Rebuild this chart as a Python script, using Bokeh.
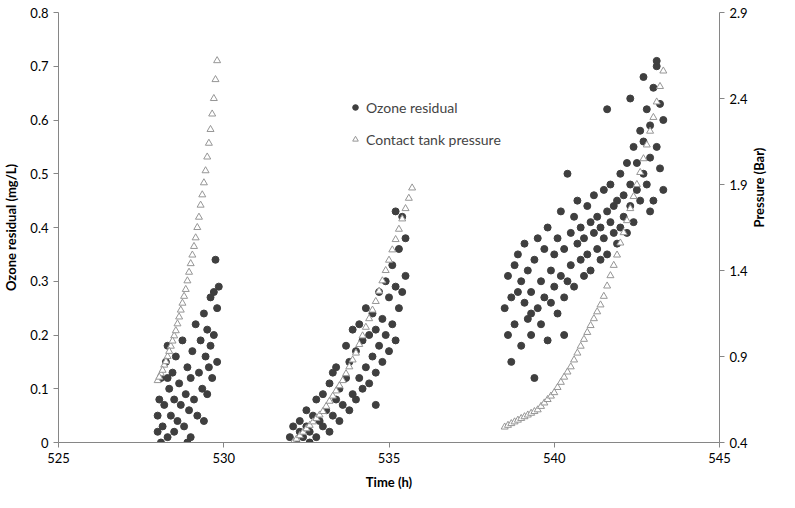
import math
from bokeh.plotting import figure
from bokeh.models import Range1d, LinearAxis, Legend, LegendItem, FixedTicker
from bokeh.embed import file_html
from bokeh.resources import INLINE

# Contact tank pressure (Bar)
p_time = [528.0,528.1,528.2,528.3,528.4,528.5,528.6,528.7,528.8,528.9,529.0,529.1,529.2,529.3,529.4,529.5,529.6,529.7,529.8,
          532.1,532.2,532.3,532.4,532.5,532.6,532.7,532.8,532.9,533.0,533.1,533.2,533.3,533.4,533.5,533.6,533.7,533.8,533.9,
          534.0,534.1,534.2,534.3,534.4,534.5,534.6,534.7,534.8,534.9,535.0,535.1,535.2,535.3,535.4,535.5,535.6,535.7,
          538.5,538.6,538.7,538.8,538.9,539.0,539.1,539.2,539.3,539.4,539.5,539.6,539.7,539.8,539.9,540.0,540.1,540.2,540.3,
          540.4,540.5,540.6,540.7,540.8,540.9,541.0,541.1,541.2,541.3,541.4,541.5,541.6,541.7,541.8,541.9,542.0,542.1,542.2,
          542.3,542.4,542.5,542.6,542.7,542.8,542.9,543.0,543.1,543.2,543.3,
          528.05,528.15,528.25,528.35,528.45,528.55,528.65,528.75,528.85,528.95,529.05,529.15,529.25,529.35,529.45,529.55,529.65,529.75]
pressure = [0.76,0.80,0.85,0.90,0.96,1.02,1.09,1.17,1.25,1.34,1.44,1.54,1.65,1.78,1.91,2.06,2.22,2.40,2.62,
            0.40,0.42,0.44,0.46,0.48,0.50,0.52,0.54,0.56,0.58,0.61,0.64,0.67,0.70,0.73,0.76,0.80,0.84,0.88,
            0.92,0.97,1.02,1.07,1.12,1.17,1.22,1.28,1.34,1.40,1.46,1.52,1.58,1.64,1.70,1.76,1.82,1.88,
            0.49,0.50,0.51,0.52,0.53,0.54,0.55,0.56,0.57,0.58,0.59,0.61,0.63,0.65,0.67,0.69,0.72,0.75,0.78,
            0.81,0.84,0.88,0.92,0.96,1.00,1.04,1.08,1.12,1.16,1.20,1.25,1.31,1.37,1.43,1.49,1.56,1.62,1.69,
            1.76,1.83,1.90,1.97,2.05,2.13,2.21,2.29,2.38,2.47,2.56,
            0.78,0.82,0.87,0.93,0.99,1.05,1.13,1.21,1.29,1.39,1.49,1.59,1.71,1.84,1.98,2.14,2.31,2.51]

# Ozone residual (mg/L)
o_time = [528.0,528.0,528.05,528.1,528.1,528.15,528.2,528.25,528.3,528.3,528.35,528.4,528.45,528.5,528.5,528.55,528.6,
          528.65,528.7,528.75,528.8,528.85,528.9,528.95,529.0,529.0,529.05,529.1,529.15,529.2,529.25,529.3,529.35,529.4,
          529.4,529.45,529.5,529.5,529.55,529.6,529.6,529.65,529.7,529.7,529.75,529.8,529.8,529.85,528.3,528.9,
          532.0,532.1,532.2,532.3,532.3,532.4,532.5,532.5,532.6,532.7,532.8,532.8,532.9,533.0,533.0,533.1,533.2,533.2,
          533.3,533.4,533.4,533.5,533.5,533.6,533.7,533.7,533.8,533.8,533.9,534.0,534.0,534.1,534.1,534.2,534.2,534.3,
          534.3,534.4,534.4,534.5,534.5,534.6,534.6,534.7,534.7,534.8,534.8,534.9,534.9,535.0,535.0,535.1,535.1,535.2,
          535.2,535.3,535.3,535.4,535.4,535.5,535.5,532.6,533.3,533.9,534.6,535.2,
          538.5,538.6,538.6,538.7,538.7,538.8,538.8,538.9,538.9,539.0,539.0,539.1,539.1,539.2,539.2,539.3,539.3,539.4,
          539.4,539.5,539.5,539.6,539.6,539.7,539.7,539.8,539.8,539.9,539.9,540.0,540.0,540.1,540.1,540.2,540.2,540.3,
          540.3,540.4,540.4,540.5,540.5,540.6,540.6,540.7,540.7,540.8,540.8,540.9,540.9,541.0,541.0,541.1,541.1,541.2,
          541.2,541.3,541.3,541.4,541.4,541.5,541.5,541.6,541.6,541.7,541.7,541.8,541.8,541.9,541.9,542.0,542.0,542.1,
          542.1,542.2,542.2,542.3,542.3,542.4,542.4,542.5,542.5,542.6,542.6,542.7,542.7,542.8,542.8,542.9,542.9,543.0,
          543.0,543.1,543.1,543.2,543.2,543.3,543.3,540.3,542.3,542.7,543.1,539.3,541.6,542.9]
ozone = [0.05,0.02,0.08,0.00,0.12,0.03,0.07,0.15,0.01,0.18,0.10,0.05,0.13,0.02,0.08,0.16,0.04,
         0.11,0.07,0.19,0.03,0.09,0.14,0.06,0.12,0.01,0.17,0.08,0.22,0.05,0.13,0.19,0.10,0.24,
         0.04,0.16,0.21,0.09,0.14,0.18,0.27,0.12,0.20,0.28,0.34,0.15,0.25,0.29,0.12,0.00,
         0.01,0.03,0.00,0.02,0.04,0.01,0.03,0.06,0.02,0.05,0.01,0.08,0.04,0.03,0.09,0.06,0.02,0.11,
         0.05,0.08,0.14,0.04,0.10,0.07,0.12,0.18,0.06,0.15,0.09,0.08,0.17,0.12,0.22,0.10,0.19,0.14,
         0.25,0.11,0.20,0.16,0.24,0.13,0.21,0.18,0.28,0.15,0.23,0.20,0.30,0.17,0.27,0.22,0.33,0.19,
         0.29,0.25,0.36,0.28,0.42,0.31,0.38,0.00,0.13,0.21,0.07,0.43,
         0.25,0.20,0.31,0.27,0.15,0.33,0.22,0.28,0.35,0.18,0.30,0.26,0.37,0.23,0.32,0.20,0.28,0.34,
         0.12,0.25,0.38,0.30,0.22,0.36,0.27,0.40,0.19,0.32,0.26,0.35,0.29,0.24,0.38,0.31,0.43,0.27,
         0.36,0.50,0.30,0.39,0.33,0.42,0.29,0.37,0.45,0.34,0.40,0.31,0.38,0.44,0.35,0.41,0.32,0.39,
         0.46,0.36,0.42,0.34,0.40,0.47,0.38,0.43,0.35,0.41,0.48,0.39,0.44,0.37,0.45,0.40,0.50,0.42,
         0.46,0.39,0.52,0.44,0.48,0.41,0.55,0.47,0.52,0.45,0.58,0.50,0.56,0.48,0.62,0.53,0.59,0.45,
         0.66,0.55,0.70,0.51,0.63,0.47,0.60,0.20,0.64,0.68,0.71,0.24,0.62,0.43]

FONT = "Lato"
p = figure(width=779, height=492, output_backend="svg", toolbar_location=None,
           x_range=Range1d(525, 545), y_range=Range1d(0, 0.8),
           min_border_left=55, min_border_right=60, min_border_top=12, min_border_bottom=39)
p.extra_y_ranges = {"pr": Range1d(0.4, 2.9)}
p.xgrid.visible = False
p.ygrid.visible = False
p.outline_line_color = None

p.xaxis.ticker = FixedTicker(ticks=[525, 530, 535, 540, 545])
p.yaxis.ticker = FixedTicker(ticks=[0, 0.1, 0.2, 0.3, 0.4, 0.5, 0.6, 0.7, 0.8])
p.xaxis.axis_label = "Time (h)"
p.yaxis.axis_label = "Ozone residual (mg/L)"
ax2 = LinearAxis(y_range_name="pr", axis_label="Pressure (Bar)",
                 ticker=FixedTicker(ticks=[0.4, 0.9, 1.4, 1.9, 2.4, 2.9]))
p.add_layout(ax2, "right")
for ax in [p.xaxis[0], p.yaxis[0], ax2]:
    ax.axis_line_color = "#868686"
    ax.major_tick_line_color = "#868686"
    ax.minor_tick_line_color = None
    ax.major_tick_in = 0
    ax.major_tick_out = 5
    ax.major_label_text_font = FONT
    ax.major_label_text_font_size = "13px"
    ax.major_label_text_color = "#000000"
    ax.axis_label_text_font = FONT
    ax.axis_label_text_font_style = "bold"
    ax.axis_label_text_font_size = "13px"
    ax.axis_label_text_color = "#000000"
    ax.axis_label_standoff = 8
ax2.axis_label_orientation = math.pi / 2

r1 = p.scatter(o_time, ozone, size=7, marker="circle", fill_color="#3f3f3f", line_color="#3f3f3f")
r2 = p.scatter(p_time, pressure, y_range_name="pr", size=7, marker="triangle",
               fill_color="white", line_color="#969696")

leg = Legend(items=[LegendItem(label="Ozone residual", renderers=[r1]),
                    LegendItem(label="Contact tank pressure", renderers=[r2])],
             location=(290, 293), border_line_color=None, background_fill_alpha=0,
             label_text_font=FONT, label_text_font_size="14px", spacing=12,
             glyph_width=14, label_standoff=4)
p.add_layout(leg)

open("out.html", "w").write(file_html(p, INLINE))
